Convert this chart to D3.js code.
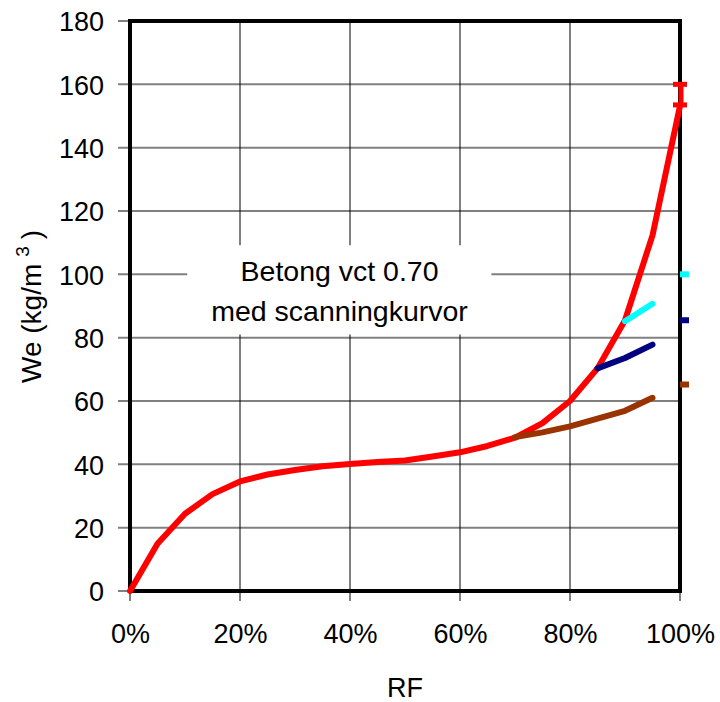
<!DOCTYPE html>
<html>
<head>
<meta charset="utf-8">
<script src="https://cdn.jsdelivr.net/npm/d3@7/dist/d3.min.js"></script>
<style>
  body { margin: 0; background: #fff; }
  svg { display: block; font-family: "Liberation Sans", Arial, sans-serif; }
</style>
</head>
<body>
<div id="chart"></div>
<script>
// ---- Data ----
const mainRF = [0, 0.05, 0.10, 0.15, 0.20, 0.25, 0.30, 0.35, 0.40, 0.45, 0.50, 0.55, 0.60, 0.65, 0.70, 0.75, 0.80, 0.85, 0.90, 0.95, 1.00];
const mainWe = [0, 14.9, 24.4, 30.6, 34.6, 36.8, 38.2, 39.4, 40.1, 40.7, 41.2, 42.5, 43.8, 45.8, 48.4, 53.0, 60.0, 70.3, 85.5, 112.3, 153.2];

const brownRF = [0.70, 0.75, 0.80, 0.85, 0.90, 0.95];
const brownWe = [48.6, 50.1, 52.0, 54.4, 56.9, 61.0];

const navyRF = [0.85, 0.90, 0.95];
const navyWe = [70.3, 73.6, 77.8];

const cyanRF = [0.90, 0.95];
const cyanWe = [85.2, 90.7];

const endValues = [100, 85.5, 65.2];       // short marks right of 100 %
const errorBar = [153.5, 160];             // red bar at 100 %

const xTicks = [0, 0.2, 0.4, 0.6, 0.8, 1.0];
const yTicks = [0, 20, 40, 60, 80, 100, 120, 140, 160, 180];

const noteLines = ["Betong vct 0.70", "med scanningkurvor"];
const xTitle = "RF";

// ---- Styles ----
const colors = { main: "#FF0000", brown: "#993300", navy: "#000080", cyan: "#00FFFF" };
const endColors = [colors.cyan, colors.navy, colors.brown];

const W = 720, H = 702;
const mLeft = 130, mRight = 680, mTop = 21, mBottom = 591;
const FS = 27;

const svg = d3.select("#chart").append("svg").attr("width", W).attr("height", H);

const x = d3.scaleLinear().domain([0, 1]).range([mLeft, mRight]);
const y = d3.scaleLinear().domain([0, 180]).range([mBottom, mTop]);

// horizontal gridlines (grey)
svg.append("g").selectAll("line").data(yTicks).join("line")
  .attr("x1", mLeft - 12).attr("x2", mRight)
  .attr("y1", d => y(d)).attr("y2", d => y(d))
  .attr("stroke", "#808080").attr("stroke-width", 2);

// vertical gridlines (black thin)
svg.append("g").selectAll("line").data(xTicks).join("line")
  .attr("x1", d => x(d)).attr("x2", d => x(d))
  .attr("y1", mTop).attr("y2", mBottom + 10)
  .attr("stroke", "#000").attr("stroke-width", 1);

// annotation box
svg.append("rect")
  .attr("x", x(0.104)).attr("y", y(109.2))
  .attr("width", x(0.657) - x(0.104)).attr("height", y(81) - y(109.2))
  .attr("fill", "#fff");

svg.append("g").selectAll("text").data(noteLines).join("text")
  .attr("x", x(0.381))
  .attr("y", (d, i) => y(97.8) + i * 40)
  .attr("text-anchor", "middle")
  .attr("font-size", 28.5)
  .attr("fill", "#000")
  .text(d => d);

// plot border
svg.append("rect")
  .attr("x", mLeft).attr("y", mTop)
  .attr("width", mRight - mLeft).attr("height", mBottom - mTop)
  .attr("fill", "none").attr("stroke", "#000").attr("stroke-width", 4);

// axes labels via d3 axes (no domain / ticks drawn)
const yAxis = svg.append("g").attr("transform", `translate(${mLeft},0)`)
  .call(d3.axisLeft(y).tickValues(yTicks).tickSize(0).tickPadding(26));
yAxis.select(".domain").remove();
yAxis.selectAll("text").attr("font-size", FS).attr("font-family", "Liberation Sans, Arial, sans-serif").attr("fill", "#000").attr("dy", "0.36em");

const xAxis = svg.append("g").attr("transform", `translate(0,${mBottom})`)
  .call(d3.axisBottom(x).tickValues(xTicks).tickFormat(d3.format(".0%")).tickSize(0).tickPadding(33));
xAxis.select(".domain").remove();
xAxis.selectAll("text").attr("font-size", FS).attr("font-family", "Liberation Sans, Arial, sans-serif").attr("fill", "#000");

// axis titles
svg.append("text")
  .attr("x", (mLeft + mRight) / 2).attr("y", 697)
  .attr("text-anchor", "middle").attr("font-size", FS).text(xTitle);

const yt = svg.append("text")
  .attr("transform", `translate(41,383) rotate(-90)`)
  .attr("text-anchor", "start").attr("font-size", 28);
yt.append("tspan").text("We (kg/m");
yt.append("tspan").attr("font-size", 19).attr("dy", -12).attr("dx", 7).text("3");
yt.append("tspan").attr("dy", 12).attr("dx", 7).text(")");

// curves
const line = d3.line().x(d => x(d[0])).y(d => y(d[1]));
function drawSeries(rf, we, color) {
  svg.append("path")
    .datum(rf.map((r, i) => [r, we[i]]))
    .attr("d", line)
    .attr("fill", "none")
    .attr("stroke", color)
    .attr("stroke-width", 6)
    .attr("stroke-linejoin", "round")
    .attr("stroke-linecap", "round");
}
drawSeries(mainRF, mainWe, colors.main);
drawSeries(brownRF, brownWe, colors.brown);
drawSeries(navyRF, navyWe, colors.navy);
drawSeries(cyanRF, cyanWe, colors.cyan);

// short end marks to the right of 100 %
svg.append("g").selectAll("line").data(endValues).join("line")
  .attr("x1", x(1)).attr("x2", x(1) + 9)
  .attr("y1", d => y(d)).attr("y2", d => y(d))
  .attr("stroke", (d, i) => endColors[i]).attr("stroke-width", 6);

// red error bar at 100 %
const eb = svg.append("g").attr("stroke", colors.main).attr("stroke-width", 5);
eb.append("line").attr("x1", x(1) + 1).attr("x2", x(1) + 1)
  .attr("y1", y(errorBar[0])).attr("y2", y(errorBar[1]));
eb.selectAll(".cap").data(errorBar).join("line").attr("class", "cap")
  .attr("x1", x(1) - 7).attr("x2", x(1) + 7)
  .attr("y1", d => y(d)).attr("y2", d => y(d));
</script>
</body>
</html>
